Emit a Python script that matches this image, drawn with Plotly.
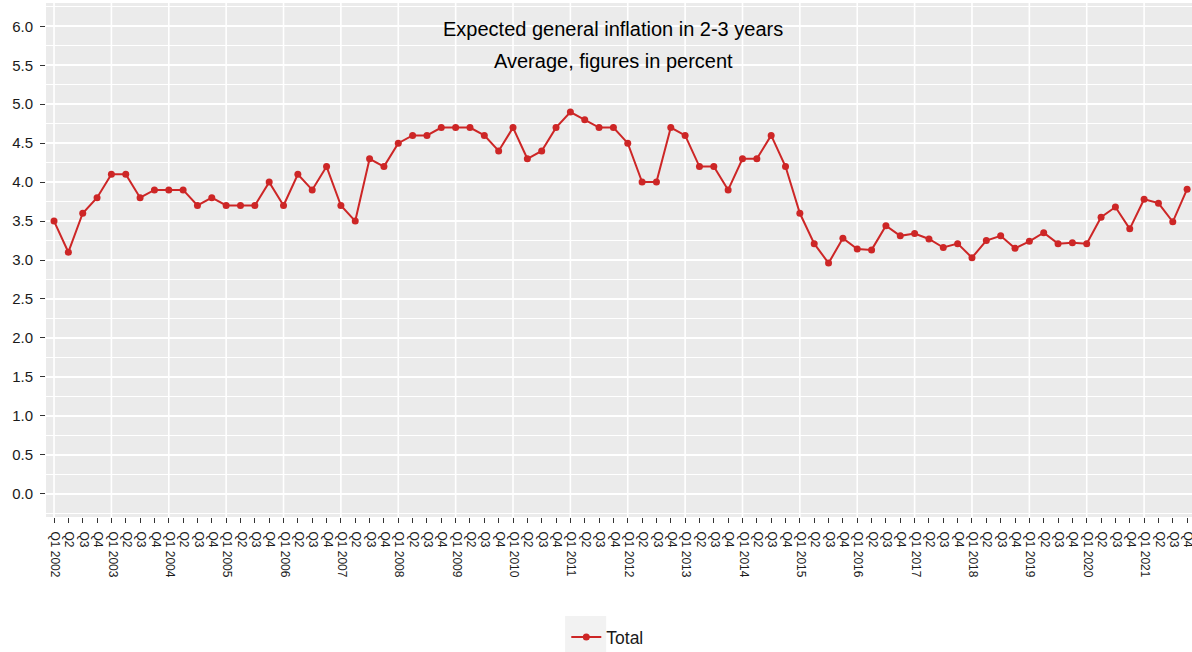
import plotly.graph_objects as go

years = list(range(2002, 2022))
quarters = ["Q1", "Q2", "Q3", "Q4"]

values = [
    3.50, 3.10, 3.60, 3.80,   # 2002
    4.10, 4.10, 3.80, 3.90,   # 2003
    3.90, 3.90, 3.70, 3.80,   # 2004
    3.70, 3.70, 3.70, 4.00,   # 2005
    3.70, 4.10, 3.90, 4.20,   # 2006
    3.70, 3.50, 4.30, 4.20,   # 2007
    4.50, 4.60, 4.60, 4.70,   # 2008
    4.70, 4.70, 4.60, 4.40,   # 2009
    4.70, 4.30, 4.40, 4.70,   # 2010
    4.90, 4.80, 4.70, 4.70,   # 2011
    4.50, 4.00, 4.00, 4.70,   # 2012
    4.60, 4.20, 4.20, 3.90,   # 2013
    4.30, 4.30, 4.60, 4.20,   # 2014
    3.60, 3.21, 2.96, 3.28,   # 2015
    3.14, 3.13, 3.44, 3.31,   # 2016
    3.34, 3.27, 3.16, 3.21,   # 2017
    3.03, 3.25, 3.31, 3.15,   # 2018
    3.24, 3.35, 3.21, 3.22,   # 2019
    3.21, 3.55, 3.68, 3.40,   # 2020
    3.78, 3.73, 3.49, 3.91,   # 2021
]

tick_labels = []
for y in years:
    for q in quarters:
        tick_labels.append(f"{q} {y}" if q == "Q1" else q)

x = list(range(len(values)))
year_starts = [i for i, lab in enumerate(tick_labels) if lab.startswith("Q1")]

y_ticks = [0.0, 0.5, 1.0, 1.5, 2.0, 2.5, 3.0, 3.5, 4.0, 4.5, 5.0, 5.5, 6.0]

title_text = "Expected general inflation in 2-3 years"
subtitle_text = "Average, figures in percent"
series_name = "Total"

RED = "#CD2626"
FONT = "Liberation Sans, Arial, sans-serif"

fig = go.Figure()
fig.add_trace(go.Scatter(
    x=x, y=values, mode="lines+markers", name=series_name,
    line=dict(color=RED, width=2),
    marker=dict(color=RED, size=7),
))

shapes = []
for i in year_starts:
    shapes.append(dict(type="line", xref="x", yref="paper", x0=i, x1=i, y0=0, y1=1,
                       line=dict(color="white", width=1.6), layer="below"))
# legend key background (ggplot style)
shapes.append(dict(type="rect", xref="paper", yref="paper",
                   x0=0.453, x1=0.4888, y0=-0.2626, y1=-0.1926,
                   fillcolor="#F2F2F2", line=dict(width=0), layer="below"))

fig.update_layout(
    width=1192, height=652,
    margin=dict(l=46, r=0, t=3, b=135, autoexpand=False),
    paper_bgcolor="white",
    plot_bgcolor="#EBEBEB",
    font=dict(family=FONT, color="#1a1a1a"),
    showlegend=True,
    legend=dict(orientation="h", x=0.454, xanchor="left", y=-0.2335, yanchor="middle",
                bgcolor="rgba(0,0,0,0)", font=dict(size=17.5, color="#1a1a1a")),
    shapes=shapes,
    annotations=[
        dict(text=title_text, xref="paper", yref="paper", x=0.495, y=0.949,
             xanchor="center", yanchor="middle",
             showarrow=False, font=dict(size=20, color="black", family=FONT)),
        dict(text=subtitle_text, xref="paper", yref="paper", x=0.495, y=0.887,
             xanchor="center", yanchor="middle",
             showarrow=False, font=dict(size=20, color="black", family=FONT)),
    ],
)

fig.update_xaxes(
    range=[-0.56, 79.34], automargin=False,
    tickmode="array", tickvals=x, ticktext=tick_labels,
    tickangle=90, tickfont=dict(size=12, color="#1a1a1a"),
    ticks="outside", ticklen=5, tickwidth=1, tickcolor="#333333",
    ticklabelstandoff=6, ticklabelshift=1, ticklabeloverflow="allow",
    showgrid=False, zeroline=False, showline=False,
)
fig.update_yaxes(
    range=[-0.3, 6.3], automargin=False,
    tickmode="array", tickvals=y_ticks, tickformat=".1f",
    tickfont=dict(size=15, color="#1a1a1a"),
    ticks="outside", ticklen=5, tickwidth=1, tickcolor="#333333",
    ticklabelstandoff=4,
    showgrid=True, gridcolor="white", gridwidth=1.6,
    minor=dict(dtick=0.25, tick0=0, showgrid=True, gridcolor="white", gridwidth=0.7, ticks=""),
    zeroline=False, showline=False,
)

fig.write_html("out.html", config={"displayModeBar": False},
               post_script="document.body.style.margin='0';")
